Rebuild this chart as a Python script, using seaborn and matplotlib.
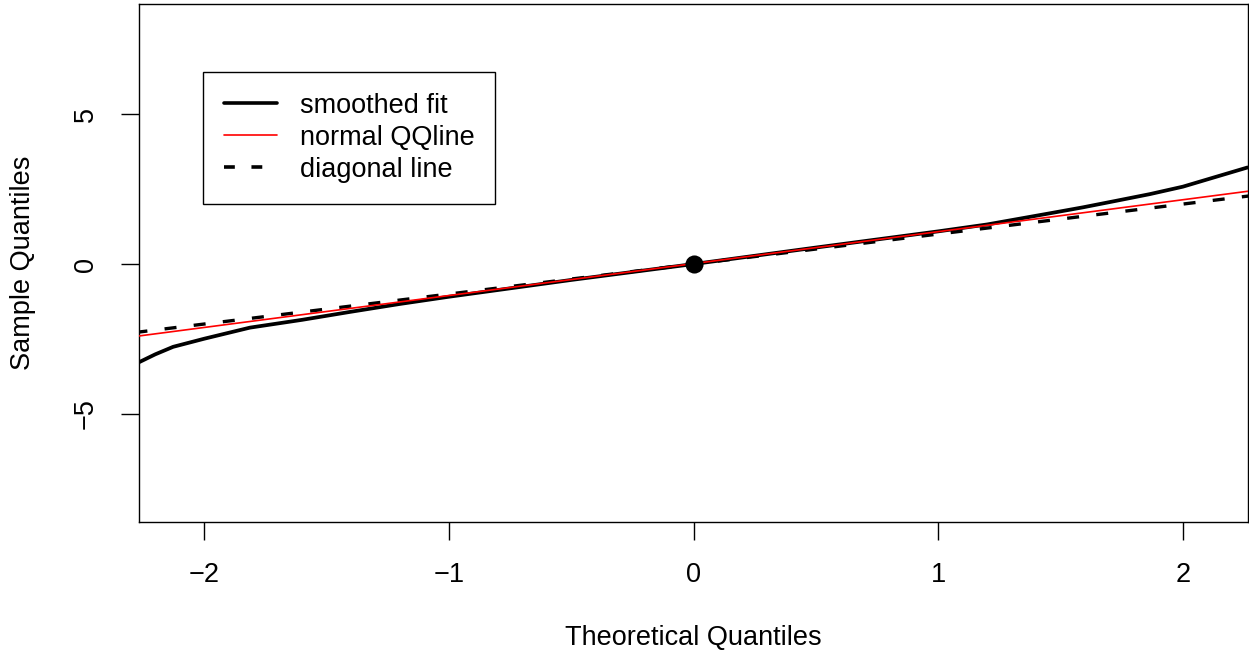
import matplotlib
matplotlib.use("Agg")
import matplotlib.pyplot as plt
import seaborn as sns
import pandas as pd
from matplotlib.lines import Line2D

# ---- data ----
smooth_x = [-2.268, -2.20, -2.127, -2.0, -1.813, -1.6, -1.4, -1.2, -1.0, -0.5, 0.0,
            0.5, 1.0, 1.2, 1.455, 1.591, 1.728, 1.864, 2.0, 2.136, 2.264]
smooth_y = [-3.28, -3.01, -2.76, -2.49, -2.12, -1.86, -1.59, -1.33, -1.09, -0.53, 0.0,
            0.55, 1.09, 1.32, 1.69, 1.89, 2.11, 2.33, 2.58, 2.91, 3.22]
qqline_x = [-2.4, 2.4]
qqline_y = [-2.54, 2.57]
diag_x = [-2.4, 2.4]
diag_y = [-2.4, 2.4]
center_x = [0.0]
center_y = [0.0]
legend_labels = ["smoothed fit", "normal QQline", "diagonal line"]
x_ticks = [-2, -1, 0, 1, 2]
y_ticks = [-5, 0, 5]
x_title = "Theoretical Quantiles"
y_title = "Sample Quantiles"

sns.set_theme(style="ticks")
plt.rcParams["font.family"] = ["Liberation Sans", "DejaVu Sans"]
plt.rcParams["text.color"] = "black"
plt.rcParams["axes.labelcolor"] = "black"
plt.rcParams["xtick.color"] = "black"
plt.rcParams["ytick.color"] = "black"
FS = 19.5

fig = plt.figure(figsize=(12.49, 6.57), dpi=100)
ax = fig.add_axes([0.111, 0.2055, 0.8882, 0.7884])

smooth_df = pd.DataFrame({"x": smooth_x, "y": smooth_y})
qq_df = pd.DataFrame({"x": qqline_x, "y": qqline_y})
diag_df = pd.DataFrame({"x": diag_x, "y": diag_y})
pt_df = pd.DataFrame({"x": center_x, "y": center_y})

sns.lineplot(data=smooth_df, x="x", y="y", sort=False, estimator=None,
             color="black", lw=2.7, ax=ax, zorder=3)
sns.lineplot(data=diag_df, x="x", y="y", sort=False, estimator=None,
             color="black", lw=2.4, ax=ax, zorder=3, dashes=False)
ax.lines[-1].set_dashes((3.6, 5.2))
sns.lineplot(data=qq_df, x="x", y="y", sort=False, estimator=None,
             color="red", lw=1.2, ax=ax, zorder=4)
sns.scatterplot(data=pt_df, x="x", y="y", color="black", s=170,
                edgecolor="black", linewidth=0, ax=ax, zorder=5)

ax.set_xlim(-2.268, 2.266)
ax.set_ylim(-8.6, 8.67)
ax.set_xticks(x_ticks)
ax.set_yticks(y_ticks)
ax.set_xticklabels([f"{t}".replace("-", "\u2212") for t in x_ticks])
ax.set_yticklabels([f"{t}".replace("-", "\u2212") for t in y_ticks])
ax.tick_params(axis="both", direction="out", length=13, width=1.0, color="black",
               labelsize=FS, pad=15.5, labelcolor="black")
ax.tick_params(axis="y", labelrotation=90)
for lab in ax.get_yticklabels():
    lab.set_va("center")
for s in ax.spines.values():
    s.set_visible(True)
    s.set_color("black")
    s.set_linewidth(1.0)
ax.set_facecolor("white")
ax.grid(False)

ax.set_xlabel(x_title, fontsize=FS, color="black")
ax.set_ylabel(y_title, fontsize=FS, color="black")
ax.xaxis.label.set_va("center")
ax.yaxis.label.set_va("center")
ax.xaxis.set_label_coords(0.5, -0.224)
ax.yaxis.set_label_coords(-0.1043, 0.5)

handles = [
    Line2D([], [], color="black", lw=2.6),
    Line2D([], [], color="red", lw=1.2),
    Line2D([], [], color="black", lw=2.6, dashes=(3.0, 4.6)),
]
leg = ax.legend(handles, legend_labels, loc="upper left",
                bbox_to_anchor=(0.0582, 0.8693), borderaxespad=0,
                fontsize=FS, frameon=True, fancybox=False, shadow=False,
                handlelength=1.94, handletextpad=0.84, borderpad=0.78,
                labelspacing=0.22, labelcolor="black")
leg.get_frame().set_edgecolor("black")
leg.get_frame().set_linewidth(1.0)
leg.get_frame().set_alpha(1)
leg.set_zorder(10)

fig.savefig("out.png", dpi=100, facecolor="white")
